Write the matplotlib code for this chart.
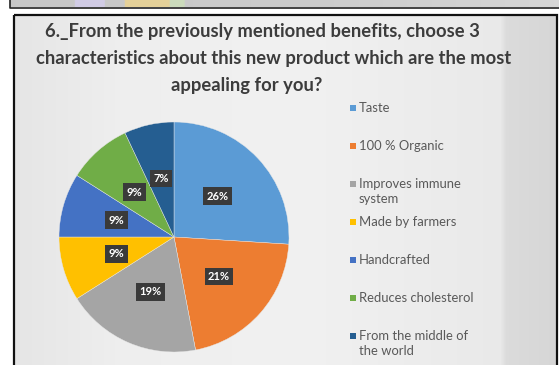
import numpy as np
import matplotlib
matplotlib.use("Agg")
import matplotlib.pyplot as plt
from matplotlib.patches import Rectangle

# survey answers (share of respondents, %)
categories = ["Taste", "100 % Organic", "Improves immune\nsystem", "Made by farmers",
              "Handcrafted", "Reduces cholesterol", "From the middle of\nthe world"]
shares = [26, 21, 19, 9, 9, 9, 7]
colors = ["#5B9BD5", "#ED7D31", "#A5A5A5", "#FFC000", "#4472C4", "#70AD47", "#255E91"]
title_lines = ["6._From the previously mentioned benefits, choose 3",
               "characteristics about this new product which are the most",
               "appealing for you?"]

W, H = 559, 365
fig = plt.figure(figsize=(W / 100, H / 100), dpi=100)
fig.patch.set_facecolor("white")

# background layer in pixel coords
bg = fig.add_axes([0, 0, 1, 1])
bg.set_xlim(0, W)
bg.set_ylim(H, 0)
bg.axis("off")

# strip of the slide above
sx = np.arange(550)
strip = np.interp(sx, [0, 300, 549], [0.78, 0.80, 0.84])[None, :, None] * np.ones((1, 1, 3))
for c0, c1, col in [(65, 95, [0.82, 0.80, 0.90]), (115, 160, [0.90, 0.82, 0.60]),
                    (160, 175, [0.80, 0.86, 0.74])]:
    strip[0, c0:c1] = col
bg.imshow(strip, extent=[10, W, 7.5, 0], aspect="auto", interpolation="gaussian")
bg.plot([9.5, 9.5, W], [0, 7.5, 7.5], color="#222222", lw=1.2)

# chart area fill: light grey, lighter in the middle, darker strip at the right
xs = np.arange(14, W - 2)
prof = np.interp(xs, [14, 120, 300, 500, 506, 557], [0.90, 0.935, 0.945, 0.915, 0.86, 0.84])
area = np.repeat(prof[None, :], 2, axis=0)[..., None] * np.ones((1, 1, 3))
bg.imshow(area, extent=[14, W - 2, H, 14.5], aspect="auto", interpolation="bilinear")
bg.add_patch(Rectangle((13.5, 14.5), W - 15.5, H, fill=False, ec="#111111", lw=1.6))

# title
title_x = [262, 274, 247]
for i, line in enumerate(title_lines):
    bg.text(title_x[i], 32 + i * 26.5, line, ha="center", va="center",
            fontsize=13.2, fontweight="bold", family="Lato", color="#3c3c3c")

# pie
cx, cy, r = 174, 237, 115
ax = fig.add_axes([(cx - r) / W, (H - cy - r) / H, 2 * r / W, 2 * r / H])
wedges, _, pcts = ax.pie(shares, colors=colors, startangle=90, counterclock=False,
                         autopct=lambda p: f"{p:.0f}%", pctdistance=0.52,
                         wedgeprops=dict(linewidth=0.3, edgecolor="#e8e8e8"))
for t in pcts:
    t.set_color("white")
    t.set_fontsize(8)
    t.set_fontweight("bold")
    t.set_family("Lato")
    t.set_bbox(dict(boxstyle="square,pad=0.3", fc="#3a3a3a", ec="none"))
ax.set_aspect("auto")
ax.set_xlim(-1, 1)
ax.set_ylim(-1, 1)

# legend, one entry every ~38 px
for i, (lab, col) in enumerate(zip(categories, colors)):
    y = 108 + i * 38
    bg.add_patch(Rectangle((350, y - 3), 6, 6, color=col, lw=0))
    bg.text(359, y - 6.5, lab, ha="left", va="top", fontsize=9.4, family="Lato",
            color="#595959", linespacing=1.35)

fig.savefig("out.png", dpi=100)
